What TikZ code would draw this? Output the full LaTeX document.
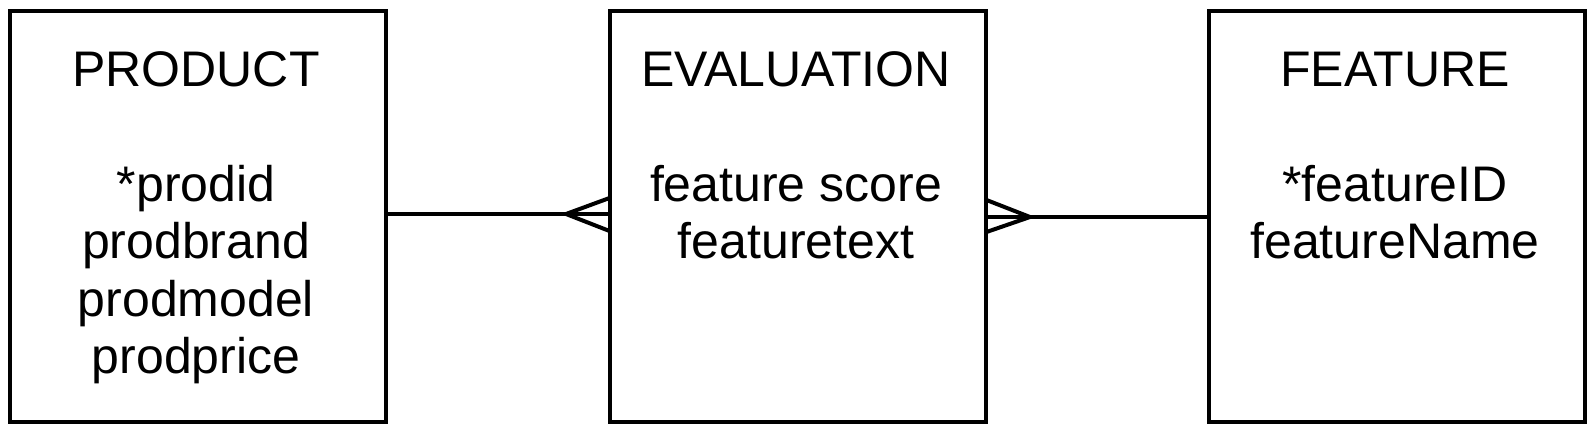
\documentclass[tikz,border=0pt]{standalone}
\usepackage{fontspec}
\setmainfont{Liberation Sans}
\begin{document}
\begin{tikzpicture}[x=1pt,y=-1pt,
  entity/.style={draw, line width=4pt, rectangle, inner sep=0pt, minimum width=376pt, minimum height=411pt},
  etext/.style={anchor=base, inner sep=0pt, font=\fontsize{50}{57.5}\selectfont},
  link/.style={line width=4pt}]
\useasboundingbox (0,0) rectangle (1591,429);
\node[entity] (prod) at (198,216.5) {};
\node[entity] (eval) at (798,216.5) {};
\node[entity] (feat) at (1397,216.5) {};
\node[etext] (prodtxt) at (196,86) {\begin{tabular}[t]{@{}c@{}}PRODUCT\\ \\{*}prodid\\prodbrand\\prodmodel\\prodprice\end{tabular}};
\node[etext] (evaltxt) at (796,86) {\begin{tabular}[t]{@{}c@{}}EVALUATION\\ \\feature score\\featuretext\end{tabular}};
\node[etext] (feattxt) at (1395,86) {\begin{tabular}[t]{@{}c@{}}FEATURE\\ \\{*}featureID\\featureName\end{tabular}};
% PRODUCT -- EVALUATION (many at EVALUATION)
\coordinate (pe1) at ([yshift=2.5pt]prod.east);
\coordinate (pe2) at ([yshift=2.5pt]eval.west);
\draw[link] (pe1) -- (pe2);
\draw[link] ([xshift=1.5pt,yshift=16pt]pe2) -- ([xshift=-42pt]pe2) -- ([xshift=1.5pt,yshift=-17pt]pe2);
% EVALUATION -- FEATURE (many at EVALUATION)
\coordinate (ef1) at ([yshift=-0.5pt]eval.east);
\coordinate (ef2) at ([yshift=-0.5pt]feat.west);
\draw[link] (ef1) -- (ef2);
\draw[link] ([xshift=-1.5pt,yshift=17pt]ef1) -- ([xshift=42pt]ef1) -- ([xshift=-1.5pt,yshift=-15pt]ef1);
\end{tikzpicture}
\end{document}
